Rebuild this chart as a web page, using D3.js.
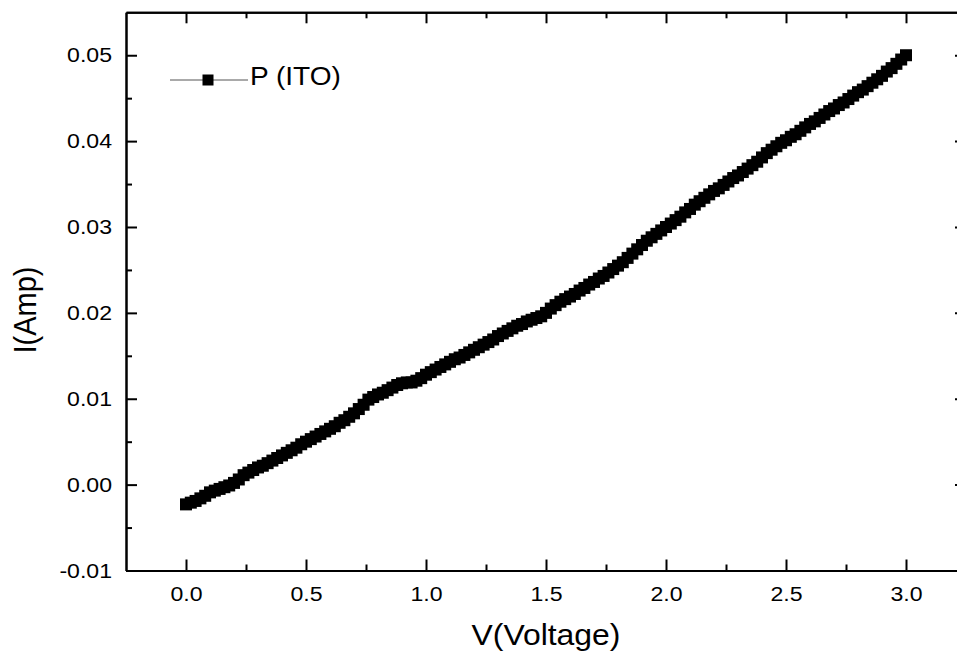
<!DOCTYPE html>
<html>
<head>
<meta charset="utf-8">
<script src="https://cdn.jsdelivr.net/npm/d3@7"></script>
<style>
  body { margin: 0; background: #fff; }
  text { font-family: "Liberation Sans", Arial, sans-serif; fill: #000; }
</style>
</head>
<body>
<div id="chart"></div>
<script>
// measured I-V points for the ITO sample
const voltage = [0.00, 0.02, 0.04, 0.06, 0.08, 0.10, 0.12, 0.14, 0.16, 0.18, 0.20, 0.22, 0.24, 0.26,
  0.28, 0.30, 0.32, 0.34, 0.36, 0.38, 0.40, 0.42, 0.44, 0.46, 0.48, 0.50, 0.52, 0.54, 0.56, 0.58, 0.60,
  0.62, 0.64, 0.66, 0.68, 0.70, 0.72, 0.74, 0.76, 0.78, 0.80, 0.82, 0.84, 0.86, 0.88, 0.90, 0.92, 0.94,
  0.96, 0.98, 1.00, 1.02, 1.04, 1.06, 1.08, 1.10, 1.12, 1.14, 1.16, 1.18, 1.20, 1.22, 1.24, 1.26, 1.28,
  1.30, 1.32, 1.34, 1.36, 1.38, 1.40, 1.42, 1.44, 1.46, 1.48, 1.50, 1.52, 1.54, 1.56, 1.58, 1.60, 1.62,
  1.64, 1.66, 1.68, 1.70, 1.72, 1.74, 1.76, 1.78, 1.80, 1.82, 1.84, 1.86, 1.88, 1.90, 1.92, 1.94, 1.96,
  1.98, 2.00, 2.02, 2.04, 2.06, 2.08, 2.10, 2.12, 2.14, 2.16, 2.18, 2.20, 2.22, 2.24, 2.26, 2.28, 2.30,
  2.32, 2.34, 2.36, 2.38, 2.40, 2.42, 2.44, 2.46, 2.48, 2.50, 2.52, 2.54, 2.56, 2.58, 2.60, 2.62, 2.64,
  2.66, 2.68, 2.70, 2.72, 2.74, 2.76, 2.78, 2.80, 2.82, 2.84, 2.86, 2.88, 2.90, 2.92, 2.94, 2.96, 2.98,
  3.00];
const current = [-0.0023, -0.0021, -0.0019, -0.0016, -0.0013, -0.0009, -0.0007, -0.0005, -0.0003,
  -0.0001, 0.0002, 0.0006, 0.0011, 0.0014, 0.0017, 0.0020, 0.0022, 0.0025, 0.0028, 0.0031, 0.0034,
  0.0037, 0.0040, 0.0043, 0.0047, 0.0050, 0.0053, 0.0056, 0.0059, 0.0062, 0.0065, 0.0068, 0.0072,
  0.0075, 0.0079, 0.0083, 0.0088, 0.0093, 0.0099, 0.0102, 0.0105, 0.0107, 0.0110, 0.0113, 0.0116,
  0.0118, 0.0119, 0.0119, 0.0121, 0.0124, 0.0128, 0.0131, 0.0134, 0.0137, 0.0140, 0.0143, 0.0146,
  0.0148, 0.0151, 0.0154, 0.0157, 0.0160, 0.0163, 0.0166, 0.0169, 0.0173, 0.0176, 0.0179, 0.0182,
  0.0185, 0.0187, 0.0190, 0.0192, 0.0194, 0.0196, 0.0200, 0.0205, 0.0209, 0.0213, 0.0216, 0.0219,
  0.0222, 0.0226, 0.0229, 0.0233, 0.0236, 0.0240, 0.0243, 0.0247, 0.0251, 0.0255, 0.0259, 0.0264,
  0.0269, 0.0274, 0.0279, 0.0284, 0.0288, 0.0292, 0.0296, 0.0300, 0.0304, 0.0308, 0.0312, 0.0317,
  0.0321, 0.0326, 0.0330, 0.0334, 0.0338, 0.0342, 0.0345, 0.0349, 0.0353, 0.0357, 0.0360, 0.0364,
  0.0368, 0.0372, 0.0376, 0.0381, 0.0386, 0.0390, 0.0394, 0.0398, 0.0401, 0.0405, 0.0408, 0.0412,
  0.0416, 0.0420, 0.0423, 0.0427, 0.0431, 0.0435, 0.0438, 0.0442, 0.0445, 0.0449, 0.0453, 0.0457,
  0.0460, 0.0464, 0.0468, 0.0472, 0.0476, 0.0481, 0.0485, 0.0490, 0.0495, 0.0500];

const xTicks = [0, 0.5, 1.0, 1.5, 2.0, 2.5, 3.0];
const xLabels = ["0.0", "0.5", "1.0", "1.5", "2.0", "2.5", "3.0"];
const xMinor = [0.25, 0.75, 1.25, 1.75, 2.25, 2.75];
const yTicks = [-0.01, 0, 0.01, 0.02, 0.03, 0.04, 0.05];
const yLabels = ["-0.01", "0.00", "0.01", "0.02", "0.03", "0.04", "0.05"];
const yMinor = [-0.005, 0.005, 0.015, 0.025, 0.035, 0.045];
const seriesName = "P (ITO)";

const width = 957, height = 657;
const stretch = 1.1; // text in the picture is a bit wider than tall

const svg = d3.select("#chart")
  .append("svg")
  .attr("width", width)
  .attr("height", height);

svg.append("rect").attr("width", width).attr("height", height).attr("fill", "#fff");

const x = d3.scaleLinear().domain([-0.25, 3.25]).range([126, 966]);
const y = d3.scaleLinear().domain([-0.01, 0.055]).range([570.5, 12.3]);

function styleAxis(g) {
  g.select(".domain").attr("stroke-width", 2);
  g.selectAll(".tick line").attr("stroke-width", 2);
  g.selectAll(".tick text")
    .style("font-size", "21px")
    .attr("transform", `scale(${stretch},1)`);
}

// major + minor ticks, all four sides, pointing inward
svg.append("g")
  .attr("transform", `translate(0, ${y(-0.01)})`)
  .call(d3.axisBottom(x).tickValues(xTicks).tickSizeInner(-11).tickSizeOuter(0)
    .tickPadding(16).tickFormat((d, i) => xLabels[i]))
  .call(styleAxis);
svg.append("g")
  .attr("transform", `translate(0, ${y(-0.01)})`)
  .call(d3.axisBottom(x).tickValues(xMinor).tickSizeInner(-6).tickSizeOuter(0).tickFormat(""))
  .call(styleAxis);

svg.append("g")
  .attr("transform", `translate(0, ${y(0.055)})`)
  .call(d3.axisTop(x).tickValues(xTicks).tickSizeInner(-11).tickSizeOuter(0).tickFormat(""))
  .call(styleAxis);
svg.append("g")
  .attr("transform", `translate(0, ${y(0.055)})`)
  .call(d3.axisTop(x).tickValues(xMinor).tickSizeInner(-6).tickSizeOuter(0).tickFormat(""))
  .call(styleAxis);

svg.append("g")
  .attr("transform", `translate(${x(-0.25)}, 0)`)
  .call(d3.axisLeft(y).tickValues(yTicks).tickSizeInner(-11).tickSizeOuter(0)
    .tickPadding(12.7).tickFormat((d, i) => yLabels[i]))
  .call(styleAxis);
svg.append("g")
  .attr("transform", `translate(${x(-0.25)}, 0)`)
  .call(d3.axisLeft(y).tickValues(yMinor).tickSizeInner(-6).tickSizeOuter(0).tickFormat(""))
  .call(styleAxis);

svg.append("g")
  .attr("transform", `translate(${x(3.25)}, 0)`)
  .call(d3.axisRight(y).tickValues(yTicks).tickSizeInner(-11).tickSizeOuter(0).tickFormat(""))
  .call(styleAxis);
svg.append("g")
  .attr("transform", `translate(${x(3.25)}, 0)`)
  .call(d3.axisRight(y).tickValues(yMinor).tickSizeInner(-6).tickSizeOuter(0).tickFormat(""))
  .call(styleAxis);

// axis titles
svg.append("g")
  .attr("transform", `translate(${(x(-0.25) + x(3.25)) / 2}, 645)`)
  .append("text")
  .attr("text-anchor", "middle")
  .attr("transform", `scale(${stretch},1)`)
  .style("font-size", "29px")
  .text("V(Voltage)");

svg.append("g")
  .attr("transform", `translate(36, 310) scale(${stretch},1) rotate(-90)`)
  .append("text")
  .attr("text-anchor", "middle")
  .style("font-size", "29px")
  .text("I(Amp)");

// data: thin line with square symbols
const points = voltage.map((v, i) => [v, current[i]]);

svg.append("path")
  .datum(points)
  .attr("fill", "none")
  .attr("stroke", "#000")
  .attr("stroke-width", 1)
  .attr("d", d3.line().x(d => x(d[0])).y(d => y(d[1])));

const sq = 12;
svg.selectAll("rect.pt")
  .data(points)
  .join("rect")
  .attr("class", "pt")
  .attr("x", d => x(d[0]) - sq / 2)
  .attr("y", d => y(d[1]) - sq / 2)
  .attr("width", sq)
  .attr("height", sq)
  .attr("fill", "#000");

// legend
const legend = svg.append("g").attr("transform", "translate(170, 80)");
legend.append("line")
  .attr("x1", 0).attr("x2", 78)
  .attr("stroke", "#555")
  .attr("stroke-width", 1);
legend.append("rect")
  .attr("x", 38 - 5.5).attr("y", -5.5)
  .attr("width", 11).attr("height", 11)
  .attr("fill", "#000");
legend.append("g")
  .attr("transform", "translate(80, 5)")
  .append("text")
  .attr("transform", `scale(${stretch},1)`)
  .style("font-size", "25.5px")
  .text(seriesName);
</script>
</body>
</html>
